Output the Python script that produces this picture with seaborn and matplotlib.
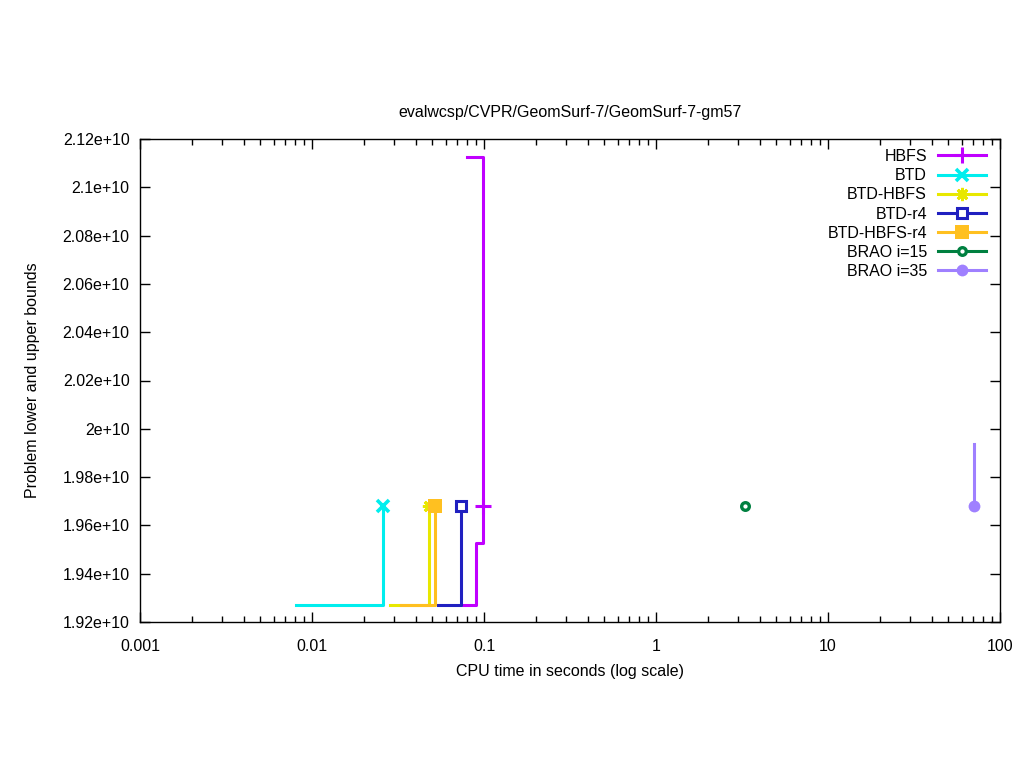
import pandas as pd
import matplotlib
matplotlib.use("Agg")
import matplotlib.pyplot as plt
import seaborn as sns
from matplotlib.lines import Line2D
from matplotlib.ticker import FuncFormatter, LogLocator, MultipleLocator, NullFormatter

# series names, colours and marker styles (legend order)
names = ["HBFS", "BTD", "BTD-HBFS", "BTD-r4", "BTD-HBFS-r4", "BRAO i=15", "BRAO i=35"]
colors = ["#c000ff", "#00eeee", "#e8e800", "#2020c0", "#ffc020", "#008040", "#9f80ff"]

# lower bound steps: (time, value)
lb_time = {
    "HBFS": [0.0752, 0.0897, 0.0983],
    "BTD": [0.00807, 0.0260],
    "BTD-HBFS": [0.0284, 0.0481],
    "BTD-r4": [0.054, 0.0738],
    "BTD-HBFS-r4": [0.0329, 0.0519],
    "BRAO i=15": [3.29],
    "BRAO i=35": [70.9],
}
lb_value = {
    "HBFS": [1.927e10, 1.9528e10, 1.968e10],
    "BTD": [1.927e10, 1.968e10],
    "BTD-HBFS": [1.927e10, 1.968e10],
    "BTD-r4": [1.927e10, 1.968e10],
    "BTD-HBFS-r4": [1.927e10, 1.968e10],
    "BRAO i=15": [1.968e10],
    "BRAO i=35": [1.968e10],
}
# upper bound steps
ub_time = {
    "HBFS": [0.0796, 0.0983],
    "BRAO i=35": [70.9, 70.9],
}
ub_value = {
    "HBFS": [2.1127e10, 1.968e10],
    "BRAO i=35": [1.9937e10, 1.968e10],
}

x_ticks = [0.001, 0.01, 0.1, 1, 10, 100]

markers = {
    "HBFS": dict(marker="+", markersize=11, markeredgewidth=2.2),
    "BTD": dict(marker="x", markersize=8.5, markeredgewidth=2.6),
    "BTD-HBFS": dict(marker=(8, 2, 0), markersize=9.5, markeredgewidth=2.0),
    "BTD-r4": dict(marker="s", markersize=7, markeredgewidth=2.2, markerfacecolor="white"),
    "BTD-HBFS-r4": dict(marker="s", markersize=9.5, markeredgewidth=0),
    "BRAO i=15": dict(marker="o", markersize=5.5, markeredgewidth=2.4, markerfacecolor="white"),
    "BRAO i=35": dict(marker="o", markersize=8.5, markeredgewidth=0),
}

plt.rcParams["font.family"] = ["Liberation Sans", "DejaVu Sans"]
plt.rcParams["font.size"] = 11.5

fig = plt.figure(figsize=(10.24, 7.68), dpi=100)
ax = fig.add_axes([140 / 1024, 1 - 622 / 768, 860 / 1024, 483 / 768])

lw = 2.2
handles = []
for name, col in zip(names, colors):
    df = pd.DataFrame({"t": lb_time[name], "v": lb_value[name]})
    if len(df) > 1:
        sns.lineplot(x="t", y="v", data=df, ax=ax, color=col, linewidth=lw,
                     drawstyle="steps-post", estimator=None, sort=False)
    if name in ub_time:
        du = pd.DataFrame({"t": ub_time[name], "v": ub_value[name]})
        sns.lineplot(x="t", y="v", data=du, ax=ax, color=col, linewidth=lw,
                     drawstyle="steps-post", estimator=None, sort=False)
    last = df.iloc[[-1]]
    ax.plot(last["t"], last["v"], linestyle="none", color=col, **markers[name])
    handles.append(Line2D([0], [0], color=col, linewidth=lw, **markers[name]))

ax.set_xscale("log")
ax.set_xlim(0.001, 100)
ax.set_ylim(1.92e10, 2.12e10)
ax.set_xticks(x_ticks)
ax.xaxis.set_minor_locator(LogLocator(base=10, subs=range(2, 10)))
ax.xaxis.set_minor_formatter(NullFormatter())
ax.xaxis.set_major_formatter(FuncFormatter(lambda v, p: f"{v:g}"))
ax.yaxis.set_major_locator(MultipleLocator(0.02e10))
ax.yaxis.set_major_formatter(FuncFormatter(lambda v, p: f"{v:g}"))

ax.tick_params(which="both", direction="in", top=True, right=True, colors="black")
ax.tick_params(which="major", length=7, width=1)
ax.tick_params(which="minor", length=4, width=1)
ax.tick_params(axis="x", which="major", pad=12)
ax.tick_params(axis="y", which="major", pad=7.5)
for s in ax.spines.values():
    s.set_linewidth(1)
    s.set_color("black")

ax.set_xlabel("CPU time in seconds (log scale)", labelpad=7.5)
ax.set_ylabel("Problem lower and upper bounds", labelpad=16.5)
ax.set_title("evalwcsp/CVPR/GeomSurf-7/GeomSurf-7-gm57", fontsize=11.5, pad=16)

ax.legend(handles, names, loc="upper right", bbox_to_anchor=(0.995, 0.999),
          frameon=False, markerfirst=False, handlelength=3.0, handletextpad=0.7,
          labelspacing=0.26, borderaxespad=0.2)

fig.savefig("out.png", dpi=100)
